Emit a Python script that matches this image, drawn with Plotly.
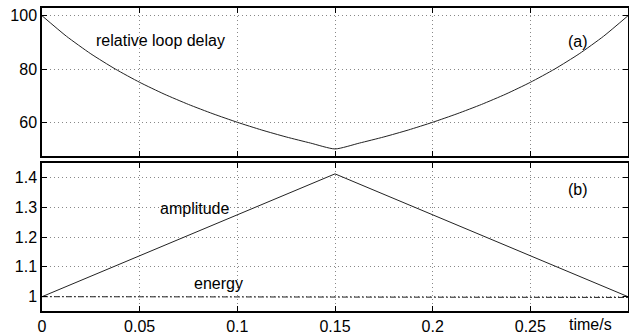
import plotly.graph_objects as go
from plotly.subplots import make_subplots

# time samples (s)
t = [0.0, 0.0125, 0.025, 0.0375, 0.05, 0.0625, 0.075, 0.0875, 0.1, 0.1125, 0.125, 0.1375, 0.15,
     0.1625, 0.175, 0.1875, 0.2, 0.2125, 0.225, 0.2375, 0.25, 0.2625, 0.275, 0.2875, 0.3]
# relative loop delay (panel a)
delay = [100, 92.3, 85.7, 80.0, 75.0, 70.6, 66.7, 63.2, 60.0, 57.1, 54.5, 52.2, 50.0,
         52.2, 54.5, 57.1, 60.0, 63.2, 66.7, 70.6, 75.0, 80.0, 85.7, 92.3, 100]
# amplitude (panel b)
amp_t = [0.0, 0.15, 0.3]
amplitude = [1.0, 1.412, 1.0]
# energy (panel b)
energy_t = [0.0, 0.05, 0.1, 0.15, 0.2, 0.25, 0.3]
energy = [1.0, 1.0, 0.9995, 0.999, 0.9985, 0.998, 0.9975]

xticks = [0, 0.05, 0.1, 0.15, 0.2, 0.25]
xticklabels = ["0", "0.05", "0.1", "0.15", "0.2", "0.25"]
yticks_a = [60, 80, 100]
yticks_b = [1, 1.1, 1.2, 1.3, 1.4]
yticklabels_b = ["1", "1.1", "1.2", "1.3", "1.4"]

FONT = "Liberation Sans, Arial, Helvetica, sans-serif"
FS = 16
LC = "#222222"

fig = make_subplots(rows=2, cols=1, shared_xaxes=False)
fig.add_trace(go.Scatter(x=t, y=delay, mode="lines", line=dict(color=LC, width=1, shape="spline", smoothing=0.6)), row=1, col=1)
fig.add_trace(go.Scatter(x=amp_t, y=amplitude, mode="lines", line=dict(color=LC, width=1)), row=2, col=1)
fig.add_trace(go.Scatter(x=energy_t, y=energy, mode="lines", line=dict(color=LC, width=1, dash="6px,2px,2px,2px")), row=2, col=1)

axcommon = dict(showline=True, linecolor="black", linewidth=1.5, mirror="allticks",
                ticks="inside", ticklen=5, tickcolor="black", tickwidth=1,
                showgrid=True, gridcolor="#888888", gridwidth=1, griddash="1px,3px",
                zeroline=False, automargin=False,
                tickfont=dict(family=FONT, size=FS, color="black"))

fig.update_xaxes(**axcommon, range=[0, 0.3], tickvals=xticks, ticktext=xticklabels)
fig.update_xaxes(showticklabels=False, row=1, col=1)
fig.update_yaxes(**axcommon)
fig.update_yaxes(range=[47.4, 102.9], tickvals=yticks_a, row=1, col=1)
fig.update_yaxes(range=[0.952, 1.447], tickvals=yticks_b, ticktext=yticklabels_b, row=2, col=1)

fig.update_layout(
    width=629, height=332,
    margin=dict(l=42, r=1, t=8, b=21),
    paper_bgcolor="white", plot_bgcolor="white",
    showlegend=False,
    font=dict(family=FONT, size=FS, color="black"),
    yaxis=dict(domain=[0.512, 1.0]),
    yaxis2=dict(domain=[0.0, 0.487]),
)

ann = dict(showarrow=False, font=dict(family=FONT, size=FS, color="black"))
fig.add_annotation(text="relative loop delay", x=0.0264, y=90.7, xref="x", yref="y", xanchor="left", **ann)
fig.add_annotation(text="(a)", x=0.2745, y=90.5, xref="x", yref="y", **ann)
fig.add_annotation(text="amplitude", x=0.0783, y=1.297, xref="x2", yref="y2", **ann)
fig.add_annotation(text="energy", x=0.0902, y=1.045, xref="x2", yref="y2", **ann)
fig.add_annotation(text="(b)", x=0.2745, y=1.36, xref="x2", yref="y2", **ann)
fig.add_annotation(text="time/s", xref="paper", yref="paper",
                   x=(590 - 42) / 586, y=(311 - 325) / 303, xanchor="center", yanchor="middle", **ann)

fig.write_html("out.html", config={"displayModeBar": False},
               post_script="document.body.style.margin='0';document.body.style.padding='0';")
